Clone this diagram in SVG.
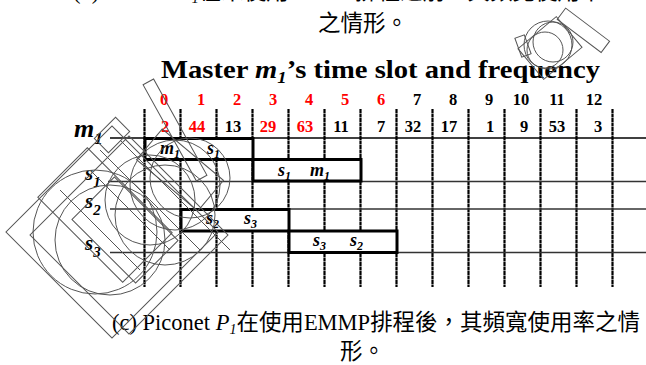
<svg xmlns="http://www.w3.org/2000/svg" width="646" height="365" viewBox="0 0 646 365">
<style>
.cap{font-family:"Liberation Serif","Noto Sans CJK TC",serif;font-size:22.5px;fill:#000}
.cjk{font-family:"Noto Sans CJK TC","Noto Sans CJK SC",sans-serif}
.ttl{font-family:"Liberation Serif",serif;font-weight:bold;font-size:26px;fill:#000}
.num{font-family:"Liberation Serif",serif;font-weight:bold;font-size:16.5px;text-anchor:middle}
.red{fill:#ff0000}
.blk{fill:#000}
.lbl{font-family:"Liberation Serif",serif;font-weight:bold;font-style:italic;fill:#000}
.vl{stroke:#000;stroke-width:2.2;stroke-dasharray:4 0.5;fill:none}
.hl{stroke:#333;stroke-width:1.5;fill:none}
.box{stroke:#000;stroke-width:3;fill:#fff}
.art{stroke:#555;stroke-width:1;fill:none}
</style>

<g id="caption-top">
<text class="cap" x="73" y="-1.5">(b) Piconet <tspan font-style="italic">P</tspan><tspan font-style="italic" font-size="14" dy="4">1</tspan><tspan class="cjk" dy="-4">在未使用</tspan>EMMP<tspan class="cjk">排程之前，其頻寬使用率</tspan></text>
<text class="cap cjk" x="318" y="31">之情形。</text>
</g>

<g id="title">
<text class="ttl" x="161" y="78" textLength="439" lengthAdjust="spacingAndGlyphs">Master <tspan font-style="italic">m</tspan><tspan font-style="italic" font-size="17" dy="5">1</tspan><tspan dy="-5">’s time slot and frequency</tspan></text>
</g>

<g id="grid">
<line class="vl" x1="144.5" y1="109" x2="144.5" y2="287"/>
<line class="vl" x1="180.5" y1="109" x2="180.5" y2="287"/>
<line class="vl" x1="216.5" y1="109" x2="216.5" y2="287"/>
<line class="vl" x1="252.5" y1="109" x2="252.5" y2="287"/>
<line class="vl" x1="288.5" y1="109" x2="288.5" y2="287"/>
<line class="vl" x1="324.5" y1="109" x2="324.5" y2="287"/>
<line class="vl" x1="360.5" y1="109" x2="360.5" y2="287"/>
<line class="vl" x1="396.5" y1="109" x2="396.5" y2="287"/>
<line class="vl" x1="432.5" y1="109" x2="432.5" y2="287"/>
<line class="vl" x1="468.5" y1="109" x2="468.5" y2="287"/>
<line class="vl" x1="504.5" y1="109" x2="504.5" y2="287"/>
<line class="vl" x1="540.5" y1="109" x2="540.5" y2="287"/>
<line class="vl" x1="576.5" y1="109" x2="576.5" y2="287"/>
<line class="vl" x1="612.5" y1="109" x2="612.5" y2="287"/>
<line x1="110" y1="138" x2="646" y2="138" stroke="#000" stroke-width="1.5"/>
<line class="hl" x1="108" y1="181.5" x2="646" y2="181.5"/>
<line class="hl" x1="110" y1="209" x2="646" y2="209"/>
<line class="hl" x1="110" y1="252.5" x2="646" y2="252.5"/>
</g>

<g id="slot-numbers">
<text class="num red" x="164" y="105">0</text>
<text class="num red" x="201" y="105">1</text>
<text class="num red" x="237" y="105">2</text>
<text class="num red" x="273" y="105">3</text>
<text class="num red" x="309" y="105">4</text>
<text class="num red" x="345" y="105">5</text>
<text class="num red" x="381" y="105">6</text>
<text class="num blk" x="417" y="105">7</text>
<text class="num blk" x="453" y="105">8</text>
<text class="num blk" x="489" y="105">9</text>
<text class="num blk" x="521" y="105">10</text>
<text class="num blk" x="557" y="105">11</text>
<text class="num blk" x="594" y="105">12</text>
</g>

<g id="frequencies">
<text class="num red" x="165" y="132">2</text>
<text class="num red" x="197" y="132">44</text>
<text class="num blk" x="233" y="132">13</text>
<text class="num red" x="268" y="132">29</text>
<text class="num red" x="305" y="132">63</text>
<text class="num blk" x="341" y="132">11</text>
<text class="num blk" x="381" y="132">7</text>
<text class="num blk" x="413" y="132">32</text>
<text class="num blk" x="449" y="132">17</text>
<text class="num blk" x="490" y="132">1</text>
<text class="num blk" x="524" y="132">9</text>
<text class="num blk" x="557" y="132">53</text>
<text class="num blk" x="598" y="132">3</text>
</g>

<g id="row-labels">
<text class="lbl" x="74" y="137" font-size="26">m<tspan font-size="17" dy="7">1</tspan></text>
<text class="lbl" x="85" y="180" font-size="21">s<tspan font-size="15" dy="7">1</tspan></text>
<text class="lbl" x="85" y="208" font-size="21">s<tspan font-size="15" dy="7">2</tspan></text>
<text class="lbl" x="85" y="250" font-size="21">s<tspan font-size="15" dy="7">3</tspan></text>
</g>

<g id="slot-m1-s1">
<rect class="box" x="145" y="138.5" width="108" height="21"/>
<text class="lbl" x="160" y="154" font-size="18">m<tspan font-size="12" dy="4">1</tspan></text>
<text class="lbl" x="207" y="154" font-size="18">s<tspan font-size="12" dy="4">1</tspan></text>
</g>
<g id="slot-s1-m1">
<rect class="box" x="253" y="159.5" width="108" height="21.5"/>
<text class="lbl" x="278" y="176" font-size="18">s<tspan font-size="12" dy="4">1</tspan></text>
<text class="lbl" x="310" y="176" font-size="18">m<tspan font-size="12" dy="4">1</tspan></text>
</g>
<g id="slot-s2-s3">
<rect class="box" x="181" y="209.5" width="108" height="21.5"/>
<text class="lbl" x="206" y="224" font-size="18">s<tspan font-size="12" dy="4">2</tspan></text>
<text class="lbl" x="244" y="224" font-size="18">s<tspan font-size="12" dy="4">3</tspan></text>
</g>
<g id="slot-s3-s2">
<rect class="box" x="289" y="231" width="108" height="21.5"/>
<text class="lbl" x="313" y="246" font-size="18">s<tspan font-size="12" dy="4">3</tspan></text>
<text class="lbl" x="350" y="246" font-size="18">s<tspan font-size="12" dy="4">2</tspan></text>
</g>

<g id="caption-bottom">
<text class="cap" x="112" y="330" textLength="528" lengthAdjust="spacingAndGlyphs">(c) Piconet <tspan font-style="italic">P</tspan><tspan font-style="italic" font-size="14" dy="4">1</tspan><tspan class="cjk" dy="-4">在使用</tspan>EMMP<tspan class="cjk">排程後，其頻寬使用率之情</tspan></text>
<text class="cap cjk" x="340" y="359">形。</text>
</g>

<g id="artifacts">
<rect class="art" x="37" y="157" width="150" height="150" transform="rotate(45 112 232)"/>
<rect class="art" x="59" y="165" width="140" height="140" transform="rotate(45 129 235)"/>
<rect class="art" x="45" y="180" width="120" height="70" transform="rotate(45 105 215)"/>
<rect class="art" x="80" y="200" width="90" height="60" transform="rotate(45 125 230)"/>
<rect class="art" x="169" y="75" width="12" height="110" transform="rotate(-29 175 130)"/>
<rect class="art" x="102" y="120" width="20" height="30" transform="rotate(45 112 135)"/>
<rect class="art" x="140" y="150" width="80" height="40" transform="rotate(40 180 170)"/>
<circle class="art" cx="95" cy="232" r="62"/>
<circle class="art" cx="110" cy="240" r="55"/>
<circle class="art" cx="150" cy="200" r="45"/>
<circle class="art" cx="175" cy="185" r="45"/>
<circle class="art" cx="190" cy="178" r="40"/>
<circle class="art" cx="165" cy="215" r="50"/>
<line class="art" x1="100" y1="150" x2="200" y2="250"/>
<line class="art" x1="90" y1="170" x2="170" y2="250"/>
<line class="art" x1="60" y1="190" x2="140" y2="270"/>
<line class="art" x1="120" y1="140" x2="230" y2="250"/>
<circle class="art" cx="548" cy="45" r="24"/>
<circle class="art" cx="553" cy="42" r="20"/>
<circle class="art" cx="545" cy="50" r="18"/>
<rect class="art" x="525" y="28" width="50" height="40" transform="rotate(-40 550 48)"/>
<rect class="art" x="556" y="23" width="55" height="14" transform="rotate(37 583 30)"/>
<rect class="art" x="518" y="36" width="10" height="20" transform="rotate(-20 523 46)"/>
</g>
</svg>
